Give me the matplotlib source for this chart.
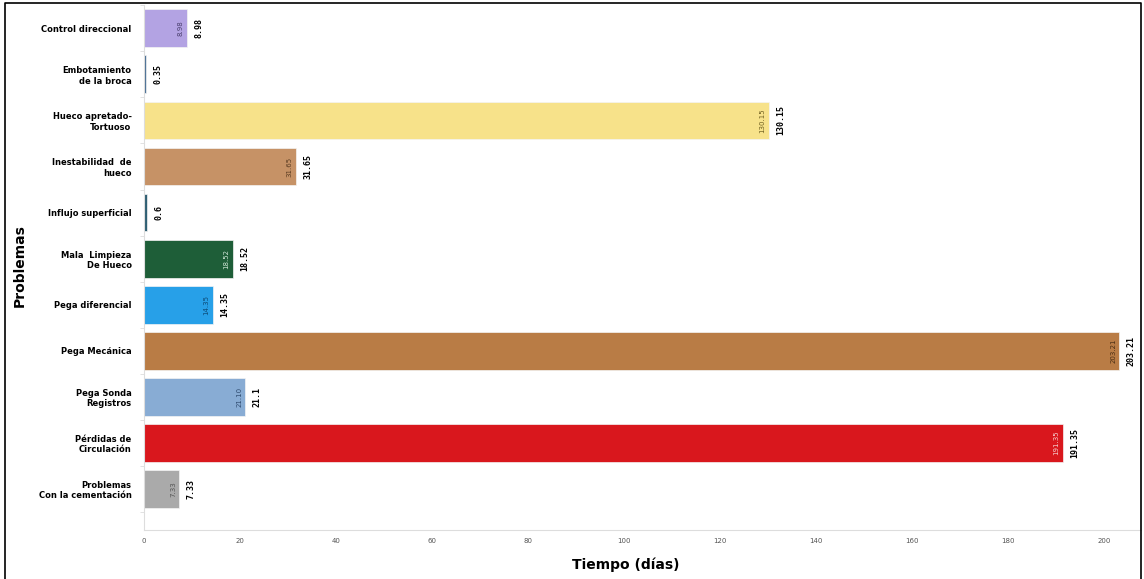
import numpy as np
import matplotlib.pyplot as plt
from matplotlib.lines import Line2D

problemas = ["Control direccional", "Embotamiento\nde la broca", "Hueco apretado-\nTortuoso",
             "Inestabilidad  de\nhueco", "Influjo superficial", "Mala  Limpieza\nDe Hueco",
             "Pega diferencial", "Pega Mecánica", "Pega Sonda\nRegistros",
             "Pérdidas de\nCirculación", "Problemas\nCon la cementación"]
dias = [8.98, 0.35, 130.15, 31.65, 0.6, 18.52, 14.35, 203.21, 21.10, 191.35, 7.33]
colores = ["#b3a3e3", "#4a6f94", "#f7e28a", "#c69266", "#2f5f73", "#1e5e38",
           "#27a0e8", "#b97c45", "#88acd4", "#d9171d", "#aaaaaa"]
color_interno = ["#4a3f6e", "#ffffff", "#6e5f20", "#5a3c22", "#ffffff", "#cfe6d6",
                 "#0d4a75", "#4a2e14", "#2e4a6e", "#f5d0d0", "#555555"]

fig = plt.figure(figsize=(11.44, 5.79), dpi=100)
ax = fig.add_axes([0.1259, 0.0846, 0.8715, 0.9064])

y = np.arange(len(problemas))
barras = ax.barh(y, dias, height=0.82, color=colores, edgecolor="#f4f4f4", linewidth=0.5)

for i, (v, b) in enumerate(zip(dias, barras)):
    # etiqueta dentro de la barra
    if v > 2:
        ax.text(v - 1.3, i, f"{v:.2f}", rotation=90, ha="center", va="center",
                fontsize=5, color=color_interno[i])
    # etiqueta fuera de la barra
    ax.text(v + 2.5, i, f"{v:g}", rotation=90, ha="center", va="center",
            fontsize=6, fontweight="bold", color="black", family="DejaVu Sans Mono")

ax.set_xlim(0, 207.7)
ax.set_ylim(10.89, -0.5)
ax.set_xticks(np.arange(0, 201, 20))
ax.tick_params(axis="x", labelsize=5, colors="#555555", length=0, pad=6)
ax.set_yticks(y)
ax.set_yticklabels(problemas, fontsize=6, fontweight="bold", ha="right")
ax.tick_params(axis="y", length=0, pad=9)
ax.set_yticks(np.arange(-0.5, 10.6, 1), minor=True)
ax.tick_params(axis="y", which="minor", length=3, color="#dddddd")

for s in ["top", "right"]:
    ax.spines[s].set_visible(False)
ax.spines["left"].set_color("#dddddd")
ax.spines["bottom"].set_color("#dddddd")

fig.text(0.0175, 0.542, "Problemas", rotation=90, ha="center", va="center",
         fontsize=10, fontweight="bold")
fig.text(0.547, 0.024, "Tiempo (días)", ha="center", va="center",
         fontsize=10, fontweight="bold")

# marco exterior
fig.add_artist(Line2D([0.0044, 0.0044, 0.9974, 0.9974], [0.0, 0.995, 0.995, 0.0],
                      transform=fig.transFigure, color="black", linewidth=1.2))

fig.savefig("out.png", dpi=100)
